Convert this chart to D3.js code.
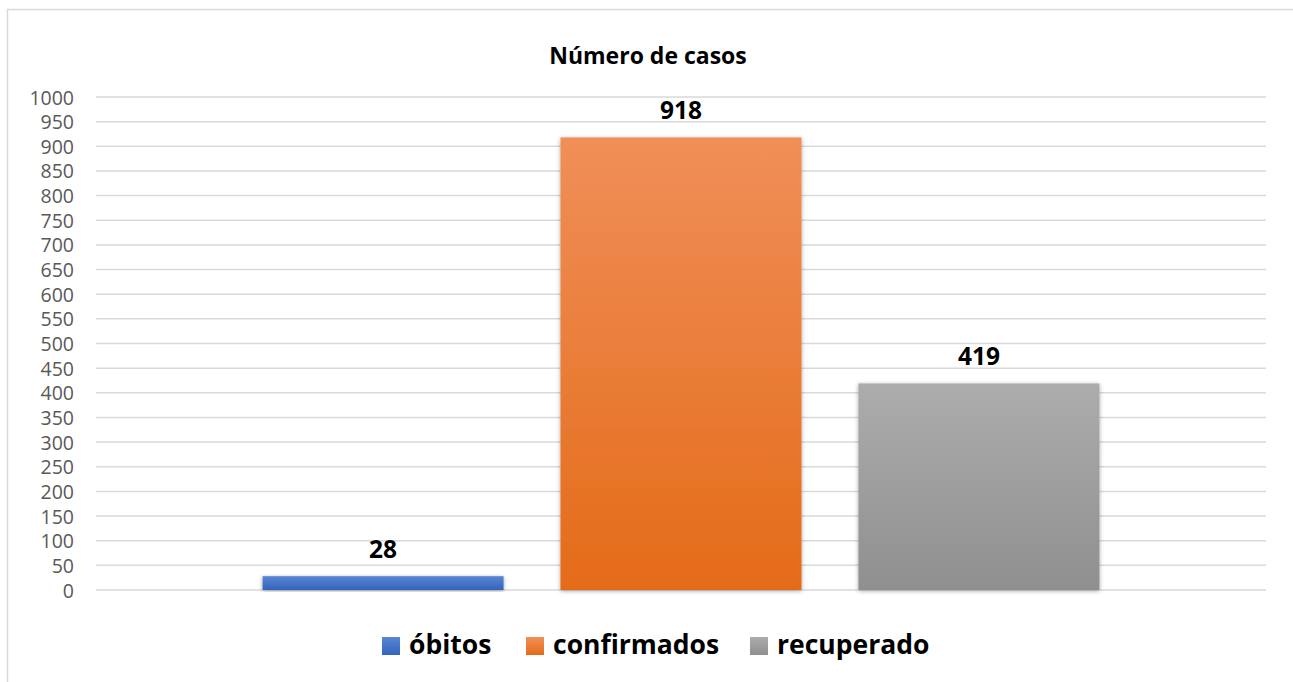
<!DOCTYPE html>
<html>
<head>
<meta charset="utf-8">
<script src="https://cdn.jsdelivr.net/npm/d3@7"></script>
<style>
  body { margin: 0; background: #fff; }
  svg { display: block; font-family: "Open Sans", Calibri, sans-serif; }
</style>
</head>
<body>
<div id="chart"></div>
<script>
// data
const series = ["óbitos", "confirmados", "recuperado"];
const values = [28, 918, 419];
const yTicks = d3.range(0, 1001, 50);
const title = "Número de casos";

const colorsTop = ["#5a86d2", "#f08f58", "#acacac"];
const colorsBottom = ["#3263be", "#e46b19", "#8f8f8f"];

const width = 1293, height = 682;
const margin = { top: 97, right: 27, bottom: 92, left: 96 };

const svg = d3.select("#chart").append("svg")
    .attr("width", width)
    .attr("height", height);

const defs = svg.append("defs");
series.forEach((s, i) => {
    const g = defs.append("linearGradient")
        .attr("id", "grad" + i)
        .attr("x1", 0).attr("y1", 0).attr("x2", 0).attr("y2", 1);
    g.append("stop").attr("offset", "0%").attr("stop-color", colorsTop[i]);
    g.append("stop").attr("offset", "100%").attr("stop-color", colorsBottom[i]);
});
const shadow = defs.append("filter").attr("id", "shadow")
    .attr("x", "-10%").attr("y", "-10%").attr("width", "120%").attr("height", "120%");
shadow.append("feDropShadow")
    .attr("dx", 0).attr("dy", 1).attr("stdDeviation", 2)
    .attr("flood-color", "#000").attr("flood-opacity", 0.35);

// chart border
svg.append("rect")
    .attr("x", 7.5).attr("y", 9.5)
    .attr("width", width).attr("height", height)
    .attr("fill", "none")
    .attr("stroke", "#d9d9d9")
    .attr("stroke-width", 1.5);

const x = d3.scaleBand()
    .domain(series)
    .range([margin.left, width - margin.right])
    .paddingInner(0.191)
    .paddingOuter(0.559);

const y = d3.scaleLinear()
    .domain([0, 1000])
    .range([height - margin.bottom, margin.top]);

// gridlines
svg.append("g")
    .selectAll("line")
    .data(yTicks)
    .join("line")
    .attr("x1", margin.left)
    .attr("x2", width - margin.right)
    .attr("y1", d => y(d))
    .attr("y2", d => y(d))
    .attr("stroke", "#d9d9d9")
    .attr("stroke-width", 1.5);

// y axis labels
const yAxis = svg.append("g")
    .attr("transform", `translate(${margin.left - 22},0)`)
    .call(d3.axisLeft(y).tickValues(yTicks).tickFormat(d3.format("d")).tickSize(0).tickPadding(0));
yAxis.select(".domain").remove();
yAxis.attr("font-family", null).attr("font-size", null);
yAxis.selectAll("text")
    .attr("fill", "#595959")
    .style("font-size", "19.5px")
    .attr("dy", "0.36em");

// bars
svg.append("g")
    .selectAll("rect")
    .data(series)
    .join("rect")
    .attr("x", d => x(d))
    .attr("width", x.bandwidth())
    .attr("y", (d, i) => y(values[i]))
    .attr("height", (d, i) => y(0) - y(values[i]))
    .attr("fill", (d, i) => `url(#grad${i})`)
    .attr("filter", "url(#shadow)");

// value labels
svg.append("g")
    .selectAll("text")
    .data(series)
    .join("text")
    .attr("x", d => x(d) + x.bandwidth() / 2)
    .attr("y", (d, i) => y(values[i]) - 18)
    .attr("text-anchor", "middle")
    .style("font-size", "24.5px")
    .style("font-weight", "bold")
    .attr("fill", "#000")
    .text((d, i) => values[i]);

// title
svg.append("text")
    .attr("x", 648)
    .attr("y", 64)
    .attr("text-anchor", "middle")
    .style("font-size", "23px")
    .style("font-weight", "bold")
    .attr("fill", "#000")
    .text(title);

// legend
const legendX = [382, 526, 750];
const legend = svg.append("g")
    .selectAll("g")
    .data(series)
    .join("g")
    .attr("transform", (d, i) => `translate(${legendX[i]},637)`);

legend.append("rect")
    .attr("width", 18)
    .attr("height", 18)
    .attr("fill", (d, i) => `url(#grad${i})`);

legend.append("text")
    .attr("x", 27)
    .attr("y", 17)
    .style("font-size", "26.5px")
    .style("font-weight", "bold")
    .attr("fill", "#000")
    .text(d => d);
</script>
</body>
</html>
